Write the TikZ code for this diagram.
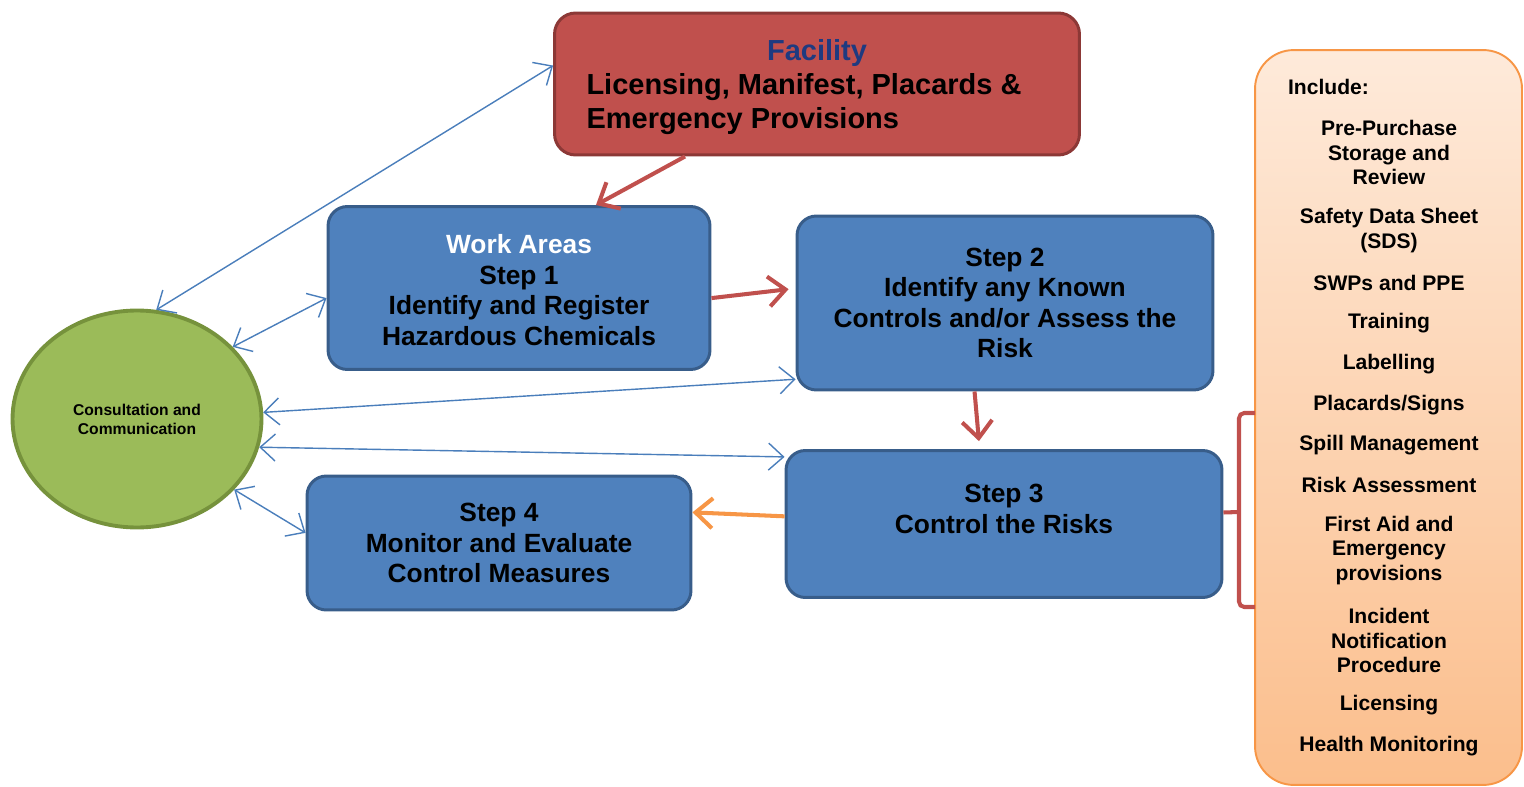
\documentclass[tikz,border=0pt]{standalone}
\usepackage{fontspec}
\setmainfont{Liberation Sans}
\usetikzlibrary{arrows.meta, shapes.geometric, calc}
\definecolor{facRed}{HTML}{C0504D}
\definecolor{facDark}{HTML}{8C3836}
\definecolor{facNavy}{HTML}{1F3A80}
\definecolor{stepBlue}{HTML}{4F81BD}
\definecolor{stepDark}{HTML}{385D8A}
\definecolor{linkBlue}{HTML}{4A7EBB}
\definecolor{ccGreen}{HTML}{9BBB59}
\definecolor{ccDark}{HTML}{76923C}
\definecolor{incOrange}{HTML}{F79646}
\definecolor{incTop}{HTML}{FEEADA}
\definecolor{incBot}{HTML}{FBBE8C}
\tikzset{
  arrowR/.style={-{Straight Barb[length=3.4mm, width=6mm]}, facRed, line width=2.3pt},
  arrowO/.style={-{Straight Barb[length=3.4mm, width=6mm]}, incOrange, line width=2.3pt},
  arrowB/.style={{Straight Barb[length=3mm, width=5.4mm]}-{Straight Barb[length=3mm, width=5.4mm]},
                 linkBlue, line width=0.8pt},
  brk/.style={facRed, line width=2.3pt, rounded corners=3pt},
  boxRed/.style={rectangle, rounded corners=12pt, draw=facDark, fill=facRed, line width=1.7pt,
                 align=center, font=\bfseries\fontsize{16.5}{19.3}\selectfont, inner sep=3pt},
  boxBlue/.style={rectangle, rounded corners=11pt, draw=stepDark, fill=stepBlue, line width=1.7pt,
                  align=center, font=\bfseries\fontsize{15}{17.4}\selectfont, inner sep=3pt},
  consult/.style={ellipse, draw=ccDark, fill=ccGreen, line width=2.2pt, align=center,
                  minimum width=4.98cm, minimum height=4.34cm,
                  font=\bfseries\fontsize{8.9}{10.8}\selectfont},
  incBox/.style={rectangle, rounded corners=22pt, draw=incOrange, line width=1.1pt,
                 top color=incTop, bottom color=incBot, minimum width=5.34cm, minimum height=14.7cm},
  incItem/.style={align=center, inner sep=1pt, font=\bfseries\fontsize{12}{13.9}\selectfont},
}
\begin{document}
\begin{tikzpicture}[x=0.02cm, y=-0.02cm]
  \useasboundingbox (0,0) rectangle (1524,787);
  \node[boxRed, minimum width=10.5cm, minimum height=2.84cm] (fac) at (817,84)
    {\rule{0pt}{18pt}\textcolor{facNavy}{Facility}\\
     \begin{tabular}[t]{@{}l@{}}Licensing, Manifest, Placards \&\hspace*{0.52cm}\\Emergency Provisions\end{tabular}};
  \node[boxBlue, minimum width=7.64cm, minimum height=3.26cm] (wa) at (519,288)
    {\rule{0pt}{13pt}\textcolor{white}{Work Areas}\\Step 1\\Identify and Register\\Hazardous Chemicals};
  \node[boxBlue, minimum width=8.32cm, minimum height=3.48cm] (s2) at (1005,303)
    {Step 2\\Identify any Known\\Controls and/or Assess the\\Risk};
  \node[boxBlue, minimum width=8.72cm, minimum height=2.94cm] (s3) at (1004,524)
    {Step 3\\Control the Risks\\\mbox{}};
  \node[boxBlue, minimum width=7.68cm, minimum height=2.68cm] (s4) at (499,543)
    {Step 4\\Monitor and Evaluate\\Control Measures};
  \node[consult] (cc) at (137,419) {Consultation and\\Communication};
  \node[incBox] (inc) at (1388.5,417.5) {};
  \node[incItem, anchor=west] (incHead) at (1286,87) {Include:};
  \foreach \itm/\yy [count=\i] in {{Pre-Purchase\\Storage and\\Review}/152.5,
      {Safety Data Sheet\\(SDS)}/230.5, {SWPs and PPE}/283, {Training}/323.5, {Labelling}/364.5,
      {Placards/Signs}/405, {Spill Management}/445, {Risk Assessment}/485,
      {First Aid and\\Emergency\\provisions}/550.5, {Incident\\Notification\\Procedure}/640.5,
      {Licensing}/705, {Health Monitoring}/746}
    \node[incItem] (item\i) at (1389,\yy) {\itm};

  \draw[arrowR] ($(fac.south west)!0.25!(fac.south east)$) -- ($(wa.north west)!0.7!(wa.north east)$);
  \draw[arrowR, shorten >=4pt] (wa.-3) -- (s2.176);
  \draw[arrowR, shorten >=4.5pt] (s2.251) -- (s3.108);
  \draw[arrowO] (s3.178) -- (s4.9);

  \draw[arrowB] (cc.80) -- (fac.176);
  \draw[arrowB] (cc.37) -- (wa.183);
  \draw[arrowB] (cc.3) -- (s2.200);
  \draw[arrowB] (cc.-13) -- (s3.163);
  \draw[arrowB] (cc.-36) -- (s4.177);

  \draw[brk] (1255,413) -| (1239,607) -- (1255,607);
  \draw[brk] (s3.3) -- (1239,512);
\end{tikzpicture}
\end{document}
